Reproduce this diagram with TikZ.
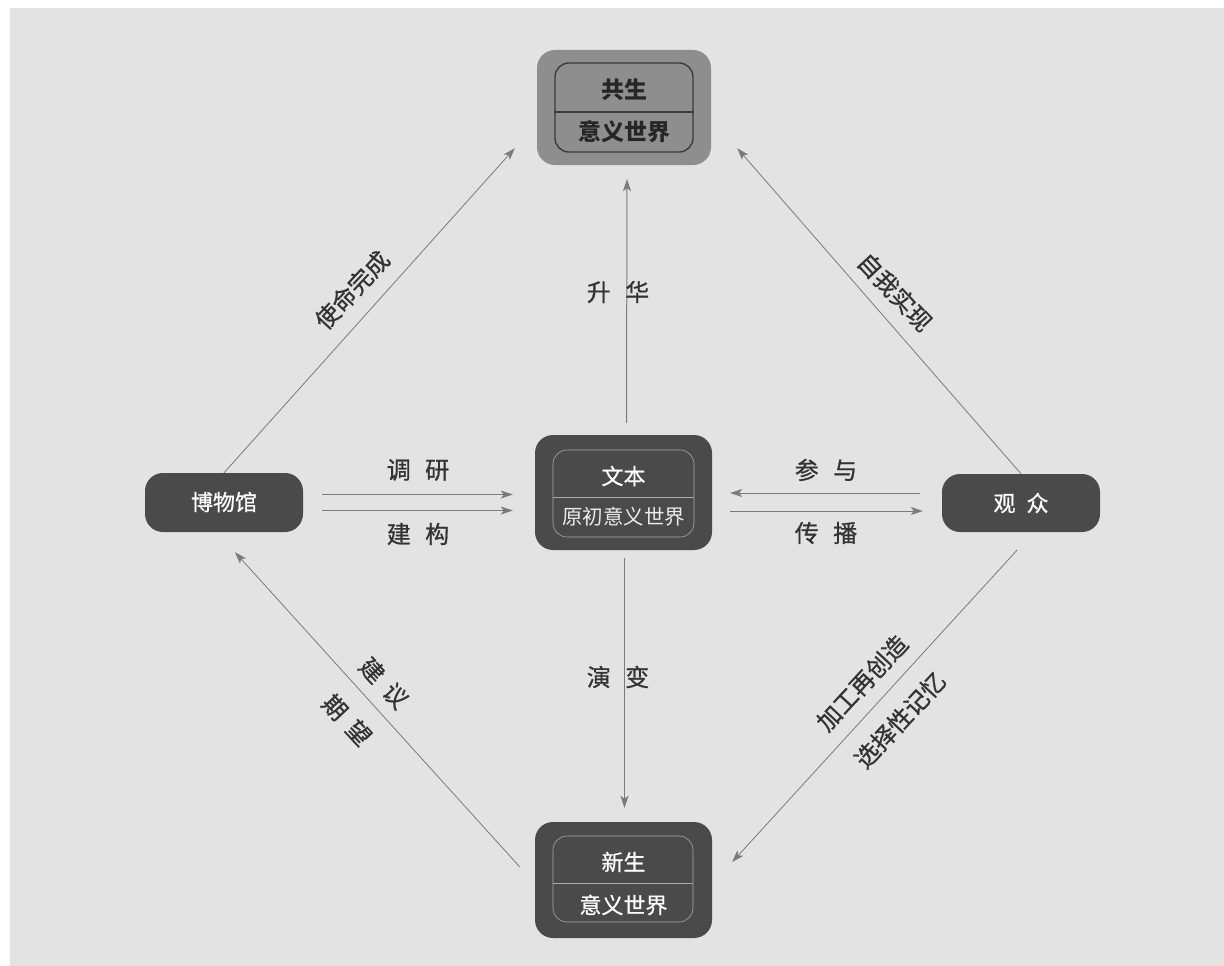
\documentclass[tikz,border=0pt]{standalone}
\usepackage{fontspec}
\setmainfont{Noto Sans CJK SC}
\newfontfamily\lblfont[UprightFeatures={FakeBold=0.8}]{Noto Sans CJK SC}
\usetikzlibrary{arrows.meta}
\definecolor{bg}{HTML}{E3E3E3}
\definecolor{darkbox}{HTML}{4A4A4A}
\definecolor{midbox}{HTML}{8E8E8E}
\definecolor{linec}{HTML}{7A7A7A}
\definecolor{innerdark}{HTML}{3C3C3C}
\definecolor{innerlight}{HTML}{A8A8A8}
\definecolor{lbltext}{HTML}{333333}
\begin{document}
\begin{tikzpicture}[x=1pt,y=-1pt,
  outerbox/.style={draw=none, rounded corners=18pt, inner sep=0pt},
  innerbox/.style={rounded corners=14pt, inner sep=0pt, fill=none},
  whitetext/.style={text=white, font=\lblfont\fontsize{22}{26}\selectfont, inner sep=0pt},
  boldtext/.style={text=black!85, font=\fontsize{23}{27}\selectfont\bfseries, inner sep=0pt},
  lbl/.style={text=lbltext, font=\lblfont\fontsize{24}{28}\selectfont, inner sep=0pt},
  dlbl/.style={text=lbltext, font=\lblfont\fontsize{24}{28}\selectfont, inner sep=0pt},
  arr/.style={draw=linec, line width=1pt, -{Stealth[length=12pt,width=8pt,inset=3pt]}},
  darr/.style={draw=linec, line width=0.8pt, -{Stealth[length=12pt,width=8pt,inset=3pt]}}
]
\fill[white] (0,0) rectangle (1224,966);
\fill[bg] (10,8) rectangle (1224,966);
\useasboundingbox (0,0) rectangle (1224,966);

% top node: 共生 意义世界
\node[outerbox, fill=midbox, minimum width=174pt, minimum height=115pt] (top) at (624,107.5) {};
\node[innerbox, draw=innerdark, line width=1.4pt, minimum width=138pt, minimum height=89pt] (topin) at (624,107.5) {};
\draw[draw=innerdark, line width=1.4pt] (topin.west |- 0,112) -- (topin.east |- 0,112);
\node[boldtext] (topa) at (624,90) {共生};
\node[boldtext] (topb) at (624,132) {意义世界};

% middle node: 文本 原初意义世界
\node[outerbox, fill=darkbox, minimum width=177pt, minimum height=115pt] (mid) at (623.5,492.5) {};
\node[innerbox, draw=innerlight, line width=0.6pt, minimum width=141pt, minimum height=87pt] (midin) at (623.5,493.5) {};
\draw[draw=innerlight, line width=0.6pt] (midin.west |- 0,497) -- (midin.east |- 0,497);
\node[whitetext] (mida) at (623.5,476) {文本};
\node[text=white!92!black, font=\fontsize{20.5}{24}\selectfont, inner sep=0pt] (midb) at (623.5,517) {原初意义世界};

% bottom node: 新生 意义世界
\node[outerbox, fill=darkbox, minimum width=177pt, minimum height=116pt] (bot) at (623.5,880) {};
\node[innerbox, draw=innerlight, line width=0.6pt, minimum width=140pt, minimum height=86pt] (botin) at (623,879) {};
\draw[draw=innerlight, line width=0.6pt] (botin.west |- 0,883) -- (botin.east |- 0,883);
\node[whitetext] (bota) at (623.5,862) {新生};
\node[whitetext] (botb) at (623.5,905) {意义世界};

% museum and audience
\node[outerbox, fill=darkbox, minimum width=158pt, minimum height=59pt] (mus) at (224,502.5) {};
\node[whitetext] (musa) at (224,502) {博物馆};
\node[outerbox, fill=darkbox, minimum width=158pt, minimum height=58pt] (aud) at (1021,503) {};
\node[whitetext] (auda) at (1021,503) {观\hspace{0.5em}众};

% horizontal connectors
\coordinate (m1) at ([yshift=8pt]mus.east);
\coordinate (m2) at ([yshift=-8pt]mus.east);
\draw[arr] ([xshift=19pt]m1) -- ([xshift=-22pt]m1 -| mid.west);
\draw[arr] ([xshift=19pt]m2) -- ([xshift=-22pt]m2 -| mid.west);
\coordinate (a1) at ([yshift=10pt]aud.west);
\coordinate (a2) at ([yshift=-8pt]aud.west);
\draw[arr] ([xshift=-22pt]a1) -- ([xshift=18pt]a1 -| mid.east);
\draw[arr] ([xshift=18pt]a2 -| mid.east) -- ([xshift=-19pt]a2);

% vertical connectors
\draw[arr] ([xshift=3pt,yshift=12pt]mid.north) -- ([xshift=3pt,yshift=-14pt]top.south);
\draw[arr] ([xshift=1pt,yshift=-8pt]mid.south) -- ([xshift=1pt,yshift=14pt]bot.north);

% diagonal connectors
\draw[darr] (mus.north) -- ([shift={(-22pt,17pt)}]top.south west);
\draw[darr] (aud.north) -- ([shift={(26pt,17pt)}]top.south east);
\draw[darr] ([shift={(-15pt,13pt)}]bot.west) -- ([shift={(11pt,-20pt)}]mus.south);
\draw[darr] ([shift={(-4pt,-18pt)}]aud.south) -- ([shift={(20pt,18pt)}]bot.east);

% labels
\node[lbl] (l1) at (418,470) {调\hspace{0.6em}研};
\node[lbl] (l2) at (418,534) {建\hspace{0.6em}构};
\node[lbl] (l3) at (826,470) {参\hspace{0.6em}与};
\node[lbl] (l4) at (826,533) {传\hspace{0.6em}播};
\node[lbl] (l5) at (618,292) {升\hspace{0.6em}华};
\node[lbl] (l6) at (618,677) {演\hspace{0.6em}变};
\node[dlbl, rotate=47] (l7) at (352,290) {使命完成};
\node[dlbl, rotate=-47] (l8) at (895,292) {自我实现};
\node[dlbl, rotate=-47] (l9) at (384,683) {建\hspace{0.45em}议};
\node[dlbl, rotate=-47] (l10) at (347,720) {期\hspace{0.45em}望};
\node[dlbl, rotate=47] (l11) at (862,683) {加工再创造};
\node[dlbl, rotate=47] (l12) at (900,720) {选择性记忆};
\end{tikzpicture}
\end{document}
